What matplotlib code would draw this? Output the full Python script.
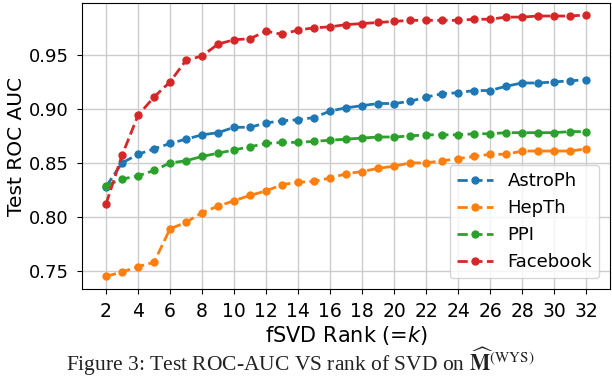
import numpy as np
from matplotlib import pyplot as plt

ranks = list(range(2, 33))

astroph = [0.828, 0.850, 0.858, 0.863, 0.868, 0.872, 0.876, 0.878, 0.883, 0.883,
           0.887, 0.889, 0.890, 0.892, 0.898, 0.901, 0.903, 0.905, 0.905, 0.907,
           0.911, 0.914, 0.915, 0.917, 0.917, 0.921, 0.924, 0.924, 0.925, 0.926, 0.927]
hepth = [0.745, 0.749, 0.754, 0.758, 0.789, 0.795, 0.804, 0.810, 0.815, 0.820,
         0.824, 0.830, 0.832, 0.833, 0.836, 0.840, 0.842, 0.845, 0.847, 0.850,
         0.850, 0.852, 0.854, 0.856, 0.858, 0.858, 0.861, 0.861, 0.861, 0.861, 0.863]
ppi = [0.829, 0.835, 0.838, 0.843, 0.850, 0.852, 0.856, 0.859, 0.862, 0.865,
       0.868, 0.869, 0.869, 0.870, 0.871, 0.872, 0.873, 0.874, 0.874, 0.875,
       0.876, 0.876, 0.876, 0.877, 0.877, 0.878, 0.878, 0.878, 0.878, 0.879, 0.879]
facebook = [0.812, 0.857, 0.894, 0.911, 0.925, 0.945, 0.949, 0.960, 0.964, 0.965,
            0.972, 0.969, 0.973, 0.975, 0.976, 0.978, 0.979, 0.980, 0.981, 0.982,
            0.982, 0.982, 0.982, 0.983, 0.983, 0.985, 0.985, 0.986, 0.986, 0.986, 0.987]

series = [('AstroPh', astroph, '#1f77b4'),
          ('HepTh', hepth, '#ff7f0e'),
          ('PPI', ppi, '#2ca02c'),
          ('Facebook', facebook, '#d62728')]

plt.rcParams['font.family'] = 'DejaVu Sans'
plt.rcParams['mathtext.fontset'] = 'dejavusans'

fig = plt.figure(figsize=(6.12, 3.80), dpi=100)
ax = fig.add_axes([0.134, 0.2395, 0.863, 0.7525])

for name, vals, c in series:
    ax.plot(ranks, vals, '--o', color=c, lw=2, ms=5, label=name)

ax.set_xlim(0.5, 33.5)
ax.set_ylim(0.7333, 0.998)
ax.set_xticks(range(2, 33, 2))
ax.set_yticks([0.75, 0.80, 0.85, 0.90, 0.95])
ax.set_yticklabels(['0.75', '0.80', '0.85', '0.90', '0.95'])
ax.grid(True, color='#cccccc', lw=1)
ax.set_axisbelow(True)
ax.tick_params(axis='x', labelsize=13.5, pad=6)
ax.tick_params(axis='y', labelsize=13, pad=6)
for s in ax.spines.values():
    s.set_color('black')
ax.set_xlabel('fSVD Rank (=$k$)', fontsize=15, labelpad=2)
ax.set_ylabel('Test ROC AUC', fontsize=14.5, labelpad=2)
ax.legend(loc='lower right', fontsize=13, borderaxespad=0.6)

fig.text(0.49, 0.004, r'Figure 3: Test ROC-AUC VS rank of SVD on $\widehat{\mathbf{M}}^{\rm (WYS)}$',
         ha='center', va='bottom', fontsize=15.5, family='Liberation Serif',
         math_fontfamily='stix', color='#222222')

plt.savefig('out.png', dpi=100)
